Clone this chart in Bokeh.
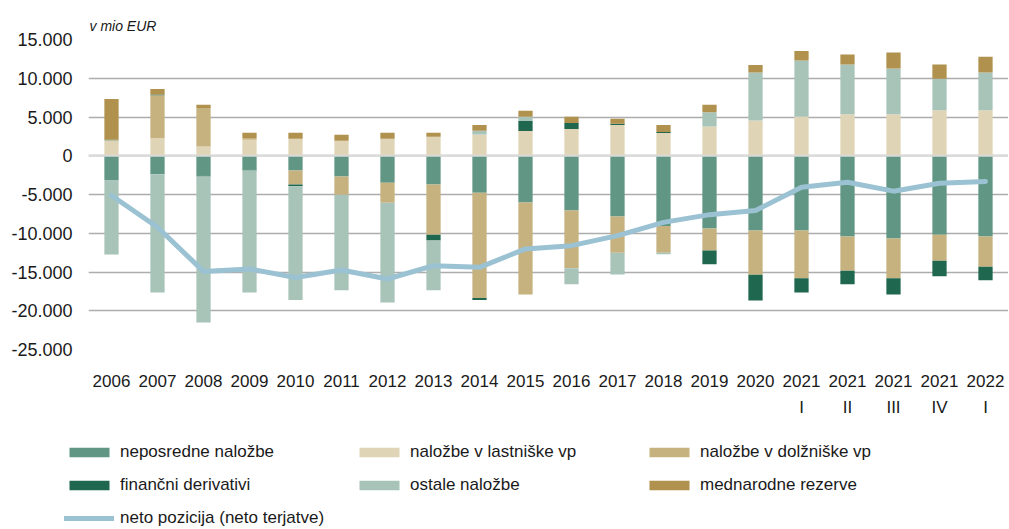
from bokeh.plotting import figure
from bokeh.models import (ColumnDataSource, FixedTicker, CustomJSTickFormatter, Span, Range1d,
                          CategoricalAxis, Legend, LegendItem)
from bokeh.embed import file_html
from bokeh.resources import INLINE

categories = ["2006", "2007", "2008", "2009", "2010", "2011", "2012", "2013", "2014",
              "2015", "2016", "2017", "2018", "2019", "2020",
              "2021 I", "2021 II", "2021 III", "2021 IV", "2022 I"]
x_labels_year = ["2006", "2007", "2008", "2009", "2010", "2011", "2012", "2013", "2014",
                 "2015", "2016", "2017", "2018", "2019", "2020",
                 "2021", "2021", "2021", "2021", "2022"]
x_labels_quarter = ["", "", "", "", "", "", "", "", "",
                    "", "", "", "", "", "",
                    "I", "II", "III", "IV", "I"]
y_ticks = [-25000, -20000, -15000, -10000, -5000, 0, 5000, 10000, 15000]

neposredne = [-3190, -2380, -2550, -1770, -1900, -2680, -3490, -3710, -4780, -6040,
              -7070, -7850, -9050, -9400, -9660, -9660, -10430, -10690, -10180, -10430]
lastniske = [1990, 2280, 1200, 2070, 2200, 1940, 2200, 2460, 2750, 3180,
             3440, 3960, 2920, 3790, 4560, 5040, 5340, 5340, 5860, 5860]
dolzniske = [0, 5520, 4950, 210, -1810, -2360, -2590, -6470, -13580, -11850,
             -7460, -4650, -3450, -2840, -5690, -6160, -4400, -5130, -3360, -3880]
derivativi = [80, 100, -130, -130, -220, 0, 0, -770, -260, 1290,
              770, 170, 130, -1770, -3320, -1810, -1760, -2070, -2020, -1770]
ostale = [-9560, -15250, -18830, -15730, -14690, -12330, -12840, -6420, 480, 570,
          -2060, -2810, -220, 1810, 6170, 7240, 6420, 5910, 4090, 4870]
rezerve = [5250, 710, 440, 690, 770, 770, 770, 510, 730, 780,
           830, 650, 910, 990, 990, 1240, 1300, 2070, 1810, 2030]
neto = [-5130, -9230, -14920, -14610, -15700, -14740, -15900, -14180, -14400, -12020,
        -11600, -10300, -8600, -7600, -7070, -4060, -3410, -4570, -3540, -3320]

series_names = ["neposredne naložbe", "naložbe v lastniške vp", "naložbe v dolžniške vp",
                "finančni derivativi", "ostale naložbe", "mednarodne rezerve"]
series_values = [neposredne, lastniske, dolzniske, derivativi, ostale, rezerve]
series_colors = ["#609683", "#dfd4b6", "#c6b27f", "#1f684f", "#a8c4b9", "#b0914d"]
line_name = "neto pozicija (neto terjatve)"
line_color = "#9bc2d2"

FONT = "Liberation Sans"
TXT = "#1a1a1a"
W = 1008
H_MAIN = 425
H_LEG = 103

p = figure(x_range=categories, y_range=Range1d(-25000, 15000),
           width=W, height=H_MAIN, output_backend="svg", toolbar_location=None,
           min_border_left=88, min_border_right=0, min_border_top=39,
           min_border_bottom=H_MAIN - 39 - 310, title="v mio EUR")
p.outline_line_color = None
p.background_fill_color = "white"

p.title.text_font = FONT
p.title.text_font_style = "italic"
p.title.text_font_size = "14px"
p.title.text_color = TXT
p.title.align = "left"
p.title.offset = 1
p.title.standoff = 12

# stacked bars: positives upward, negatives downward, in series order
pos_base = [0.0] * len(categories)
neg_base = [0.0] * len(categories)
for name, vals, col in zip(series_names, series_values, series_colors):
    bottoms, tops = [], []
    for i, v in enumerate(vals):
        if v >= 0:
            bottoms.append(pos_base[i]); tops.append(pos_base[i] + v); pos_base[i] += v
        else:
            bottoms.append(neg_base[i]); tops.append(neg_base[i] + v); neg_base[i] += v
    src = ColumnDataSource(dict(x=categories, bottom=bottoms, top=tops))
    p.vbar(x="x", bottom="bottom", top="top", width=0.31, source=src,
           fill_color=col, line_color=None)

p.line(x=categories, y=neto, line_color=line_color, line_width=5,
       line_join="round", line_cap="round")

p.add_layout(Span(location=0, dimension="width", line_color="#d9d9d9", line_width=2))

# axes
p.yaxis.ticker = FixedTicker(ticks=y_ticks)
p.yaxis.formatter = CustomJSTickFormatter(code="""
const s = Math.abs(tick).toFixed(0).replace(/\\B(?=(\\d{3})+(?!\\d))/g, ".");
return (tick < 0 ? "-" : "") + s;
""")
p.yaxis.axis_line_color = None
p.yaxis.major_tick_line_color = None
p.yaxis.minor_tick_line_color = None
p.yaxis.major_label_text_font = FONT
p.yaxis.major_label_text_font_size = "18px"
p.yaxis.major_label_text_color = TXT
p.yaxis.major_label_standoff = 10

def style_xaxis(ax, standoff, labels):
    ax.formatter = CustomJSTickFormatter(args=dict(cats=categories, labels=labels),
                                         code="return labels[cats.indexOf(tick)];")
    ax.axis_line_color = None
    ax.major_tick_line_color = None
    ax.minor_tick_line_color = None
    ax.major_label_text_font = FONT
    ax.major_label_text_font_size = "17px"
    ax.major_label_text_color = TXT
    ax.major_label_standoff = standoff

style_xaxis(p.xaxis[0], 19, x_labels_year)
ax2 = CategoricalAxis()
style_xaxis(ax2, 2, x_labels_quarter)
p.add_layout(ax2, "below")

p.xgrid.grid_line_color = None
p.ygrid.ticker = FixedTicker(ticks=y_ticks)
p.ygrid.grid_line_color = "#adadad"
p.ygrid.grid_line_width = 1.3

# legend strip: a separate figure whose frame covers the whole strip;
# its swatch renderers sit outside the visible range (legend keys only)
pl = figure(width=W, height=H_LEG, x_range=Range1d(0, 1), y_range=Range1d(0, 1),
            x_axis_location=None, y_axis_location=None, min_border=0,
            output_backend="svg", toolbar_location=None)
pl.outline_line_color = None
pl.grid.visible = False
items = []
for name, col in zip(series_names, series_colors):
    r = pl.vbar(x=[-5], bottom=[-6], top=[-5], width=0.3, fill_color=col, line_color=None)
    items.append(LegendItem(label=name, renderers=[r]))
rl = pl.line(x=[-6, -5], y=[-6, -5], line_color=line_color, line_width=5, line_cap="round")
items.append(LegendItem(label=line_name, renderers=[rl]))

lg = Legend(items=items, orientation="horizontal", ncols=3, location=(64, 0),
            padding=0, margin=0, spacing=13, border_line_color=None,
            background_fill_alpha=0, glyph_width=50, glyph_height=12,
            label_standoff=6, label_width=221, label_height=20,
            label_text_font=FONT, label_text_font_size="17px", label_text_color=TXT)
pl.add_layout(lg, "center")

open("out.html", "w").write(file_html([p, pl], INLINE))
